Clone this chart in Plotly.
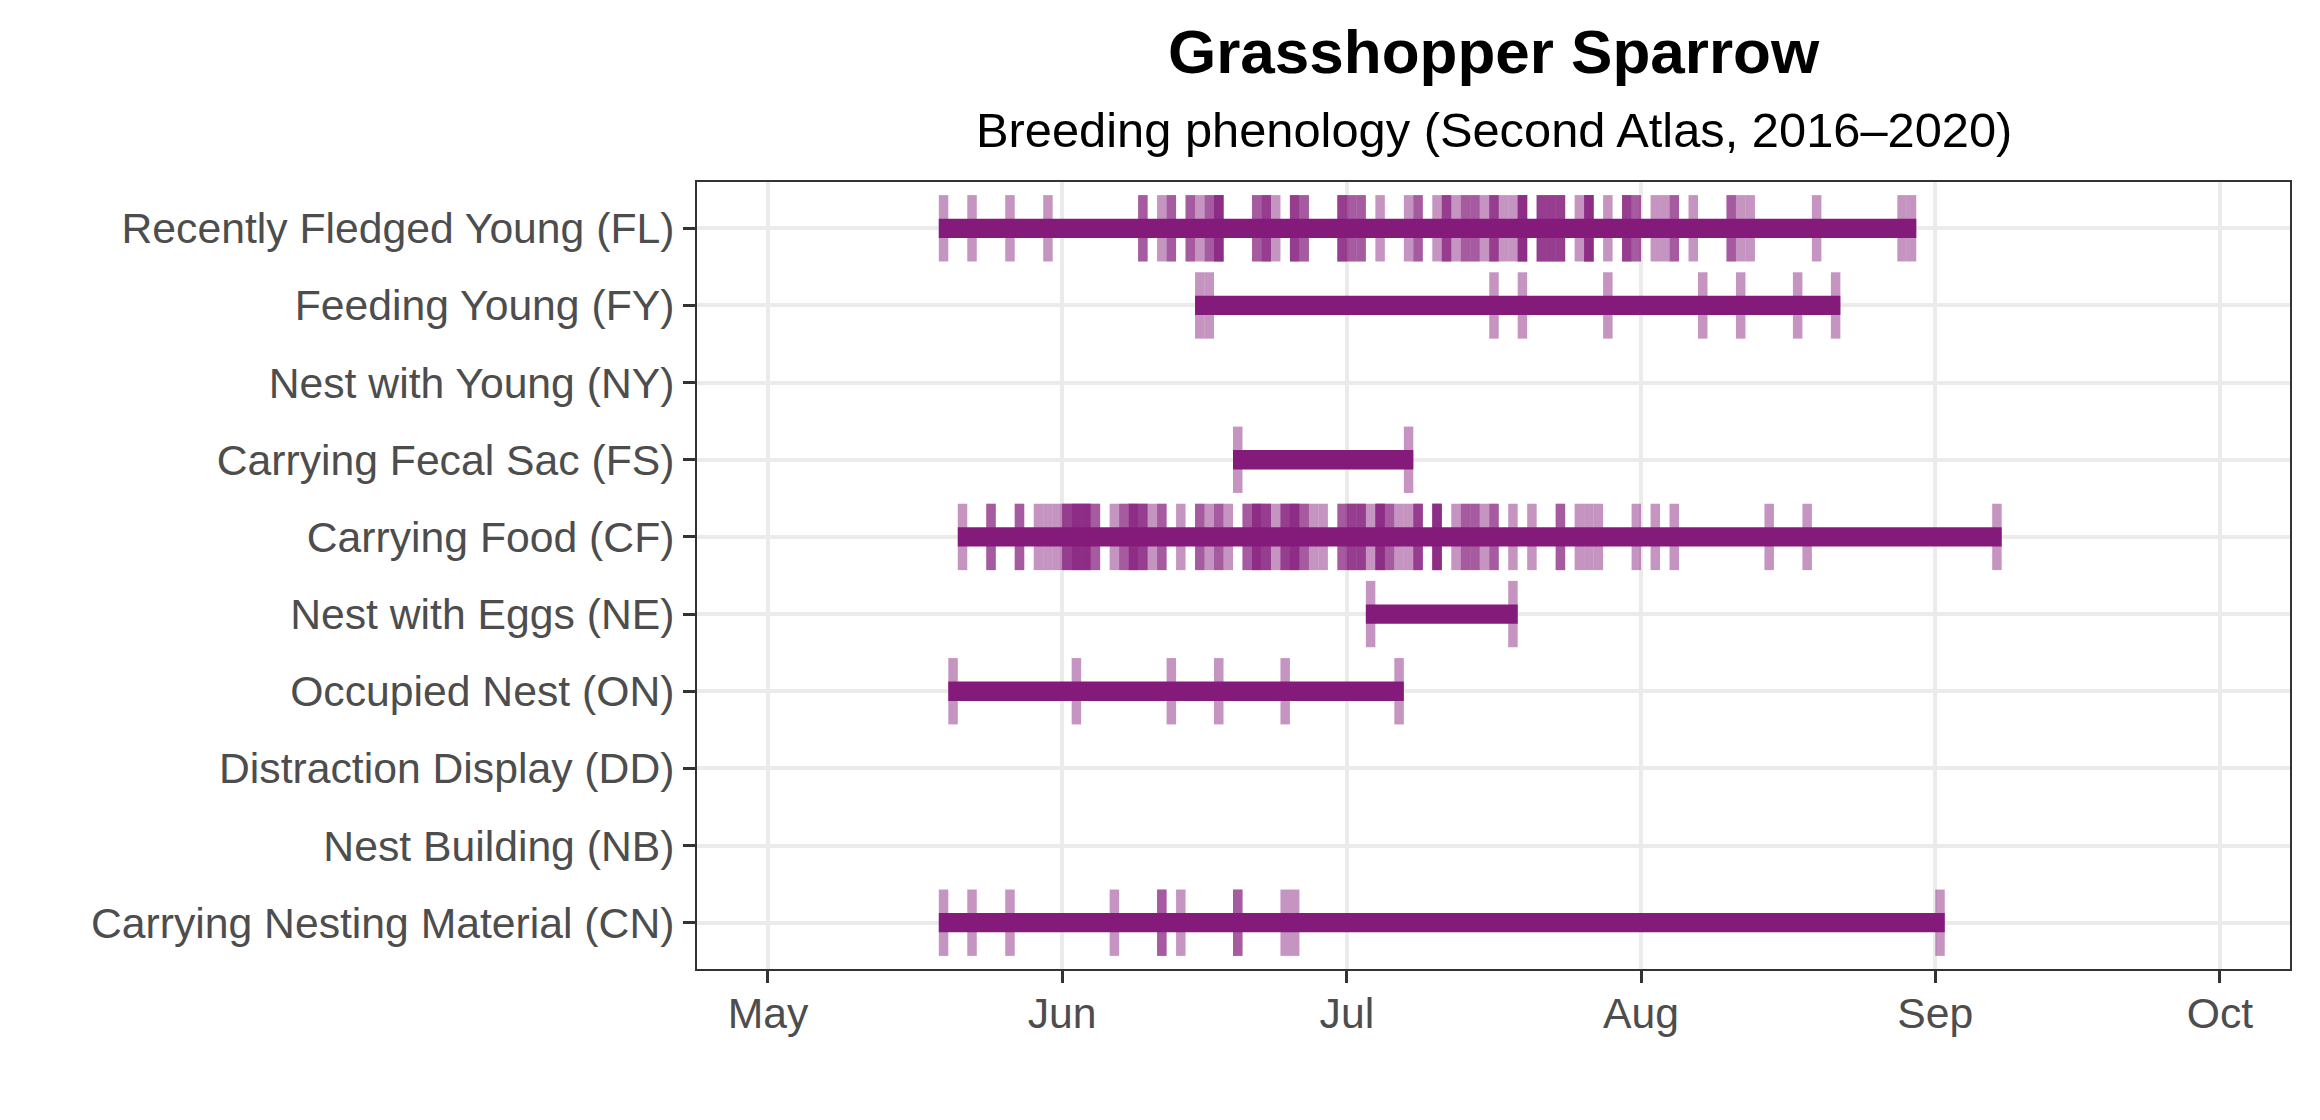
import plotly.graph_objects as go
from datetime import datetime, timedelta

YEAR = 2021

behaviors = [
    "Recently Fledged Young (FL)",
    "Feeding Young (FY)",
    "Nest with Young (NY)",
    "Carrying Fecal Sac (FS)",
    "Carrying Food (CF)",
    "Nest with Eggs (NE)",
    "Occupied Nest (ON)",
    "Distraction Display (DD)",
    "Nest Building (NB)",
    "Carrying Nesting Material (CN)",
]

month_ticks = ["05-01", "06-01", "07-01", "08-01", "09-01", "10-01"]
month_labels = ["May", "Jun", "Jul", "Aug", "Sep", "Oct"]

# Observation dates (MM-DD) and number of records on each date
fl_dates = ["05-19", "05-22", "05-26", "05-30", "06-09", "06-11", "06-12", "06-14", "06-15",
            "06-16", "06-17", "06-21", "06-22", "06-23", "06-25", "06-26", "06-30", "07-01",
            "07-02", "07-04", "07-07", "07-08", "07-10", "07-11", "07-12", "07-13", "07-14",
            "07-15", "07-16", "07-17", "07-18", "07-19", "07-21", "07-22", "07-23", "07-25",
            "07-26", "07-28", "07-30", "07-31", "08-02", "08-03", "08-04", "08-06", "08-10",
            "08-11", "08-12", "08-19", "08-28", "08-29"]
fl_counts = [1, 1, 1, 1, 2, 1, 2, 2, 1,
             2, 4, 2, 3, 1, 3, 2, 3, 2,
             2, 1, 1, 2, 1, 3, 1, 2, 2,
             1, 3, 1, 1, 4, 3, 3, 3, 1,
             4, 1, 3, 2, 1, 1, 2, 1, 2,
             1, 1, 1, 1, 1]

fy_dates = ["06-15", "06-16", "07-16", "07-19", "07-28", "08-07", "08-11", "08-17", "08-21"]
fy_counts = [1, 1, 1, 1, 1, 1, 1, 1, 1]

ny_dates = []
ny_counts = []

fs_dates = ["06-19", "07-07"]
fs_counts = [1, 1]

cf_dates = ["05-21", "05-24", "05-27", "05-29", "05-30", "05-31", "06-01", "06-02", "06-03",
            "06-04", "06-06", "06-07", "06-08", "06-09", "06-10", "06-11", "06-13", "06-15",
            "06-16", "06-17", "06-18", "06-20", "06-21", "06-22", "06-23", "06-24", "06-25",
            "06-26", "06-27", "06-28", "06-30", "07-01", "07-02", "07-03", "07-04", "07-05",
            "07-06", "07-07", "07-08", "07-10", "07-12", "07-13", "07-14", "07-15", "07-16",
            "07-18", "07-20", "07-23", "07-25", "07-26", "07-27", "07-31", "08-02", "08-04",
            "08-14", "08-18", "09-07"]
cf_counts = [1, 2, 2, 1, 1, 1, 3, 4, 4,
             2, 1, 2, 4, 3, 1, 2, 1, 2,
             1, 2, 1, 2, 4, 3, 1, 3, 4,
             2, 1, 1, 2, 3, 3, 1, 4, 2,
             1, 1, 3, 4, 1, 2, 2, 1, 2,
             1, 1, 2, 1, 1, 1, 1, 1, 1,
             1, 1, 1]

ne_dates = ["07-03", "07-18"]
ne_counts = [1, 1]

on_dates = ["05-20", "06-02", "06-12", "06-17", "06-24", "07-06"]
on_counts = [1, 1, 1, 1, 1, 1]

dd_dates = []
dd_counts = []

nb_dates = []
nb_counts = []

cn_dates = ["05-19", "05-22", "05-26", "06-06", "06-11", "06-13", "06-19", "06-24", "06-25", "09-01"]
cn_counts = [1, 1, 1, 1, 2, 1, 2, 1, 1, 1]

observations = {
    behaviors[0]: (fl_dates, fl_counts),
    behaviors[1]: (fy_dates, fy_counts),
    behaviors[2]: (ny_dates, ny_counts),
    behaviors[3]: (fs_dates, fs_counts),
    behaviors[4]: (cf_dates, cf_counts),
    behaviors[5]: (ne_dates, ne_counts),
    behaviors[6]: (on_dates, on_counts),
    behaviors[7]: (dd_dates, dd_counts),
    behaviors[8]: (nb_dates, nb_counts),
    behaviors[9]: (cn_dates, cn_counts),
}

BAR_COLOR = "#841B7B"
TICK_COLOR = "rgba(132,27,123,0.47)"
DAY_MS = 24 * 3600 * 1000
FONT = "Liberation Sans, Arial, sans-serif"


def to_dt(md):
    return datetime.strptime(f"{YEAR}-{md}", "%Y-%m-%d")


tick_y, tick_base, tick_len = [], [], []
rng_y, rng_base, rng_len = [], [], []
for beh in behaviors:
    dates, counts = observations[beh]
    if not dates:
        continue
    for d, c in zip(dates, counts):
        for _ in range(c):
            tick_y.append(beh)
            tick_base.append(to_dt(d).strftime("%Y-%m-%d"))
            tick_len.append(DAY_MS)
    dts = [to_dt(d) for d in dates]
    start, end = min(dts), max(dts) + timedelta(days=1)
    rng_y.append(beh)
    rng_base.append(start.strftime("%Y-%m-%d"))
    rng_len.append((end - start).total_seconds() * 1000)

fig = go.Figure()
fig.add_trace(go.Bar(
    y=tick_y, x=tick_len, base=tick_base, orientation="h", width=0.86,
    marker=dict(color=TICK_COLOR, line=dict(width=0)), hoverinfo="skip",
))
fig.add_trace(go.Bar(
    y=rng_y, x=rng_len, base=rng_base, orientation="h", width=0.25,
    marker=dict(color=BAR_COLOR, line=dict(width=0)), hoverinfo="skip",
))

fig.update_layout(
    width=2312, height=1112,
    margin=dict(l=689, r=30, t=174, b=151),
    plot_bgcolor="white", paper_bgcolor="white",
    barmode="overlay", showlegend=False,
    font=dict(family=FONT, color="#4D4D4D", size=42.7),
    annotations=[
        dict(text="<b>Grasshopper Sparrow</b>", x=0.5, y=1.1652, xref="paper", yref="paper",
             xanchor="center", yanchor="middle", showarrow=False,
             font=dict(size=62, color="black", family=FONT)),
        dict(text="Breeding phenology (Second Atlas, 2016\u20132020)", x=0.5, y=1.0661,
             xref="paper", yref="paper", xanchor="center", yanchor="middle", showarrow=False,
             font=dict(size=48.8, color="black", family=FONT)),
    ],
)

fig.update_xaxes(
    type="date",
    range=[f"{YEAR}-04-23 12:29", f"{YEAR}-10-08 09:07"],
    tickvals=[f"{YEAR}-{m}" for m in month_ticks],
    ticktext=month_labels,
    showgrid=True, gridcolor="#EBEBEB", gridwidth=4,
    showline=True, linecolor="#333333", linewidth=2, mirror=True,
    ticks="outside", ticklen=12, tickwidth=3, tickcolor="#333333",
    ticklabelstandoff=-6,
    zeroline=False, tickfont=dict(size=42.7, color="#4D4D4D"),
)
fig.update_yaxes(
    type="category",
    categoryorder="array", categoryarray=behaviors[::-1],
    range=[-0.6, len(behaviors) - 0.4],
    showgrid=True, gridcolor="#EBEBEB", gridwidth=4,
    showline=True, linecolor="#333333", linewidth=2, mirror=True,
    ticks="outside", ticklen=12, tickwidth=3, tickcolor="#333333",
    zeroline=False, tickfont=dict(size=42.7, color="#4D4D4D"),
)

fig.write_html("out.html")
